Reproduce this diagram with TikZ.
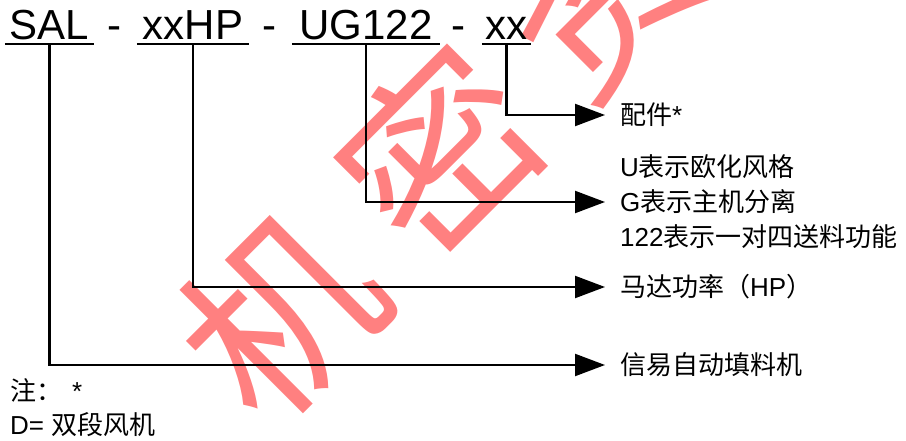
\documentclass[tikz,border=0pt]{standalone}
\usepackage{fontspec}
\setmainfont{Liberation Sans}
\newfontfamily\cjk{Noto Sans CJK SC}
\usetikzlibrary{arrows.meta}
\definecolor{wm}{RGB}{255,128,128}
\begin{document}
\begin{tikzpicture}[x=1pt,y=-1pt,
  conn/.style={line width=2.2pt,-{Triangle[length=30pt,width=22pt]}},
  uline/.style={line width=2.6pt},
  title/.style={font=\fontsize{42}{42}\selectfont, inner sep=0pt, anchor=base},
  lbl/.style={font=\fontsize{26}{35}\selectfont, anchor=west, inner xsep=15pt, inner ysep=0pt, align=left},
  note/.style={font=\fontsize{26}{35}\selectfont, anchor=west, inner sep=0pt},
  wmark/.style={font=\cjk\fontsize{190}{190}\selectfont, text=wm, rotate=45, inner sep=0pt}]
\useasboundingbox (0,0) rectangle (906,441);
\clip (0,0) rectangle (906,441);
% watermark
\node[wmark] (w1) at (280,314) {机};
\node[wmark] (w2) at (440,150) {密};
\node[wmark] (w3) at (598,-8) {资};
% title
\node[title, minimum width=89pt] (sal) at (49.5,40) {SAL};
\node[title] (d1) at (114,40) {-};
\node[title, minimum width=112pt] (hp) at (193,40) {xxHP};
\node[title] (d2) at (269,40) {-};
\node[title, minimum width=148pt] (ug) at (366,40) {UG122};
\node[title] (d3) at (458,40) {-};
\node[title, minimum width=49pt] (xx) at (506.5,40) {xx};
\foreach \n in {sal,hp,ug,xx}{
  \draw[uline] ([yshift=-4pt]\n.base west) -- ([yshift=-4pt]\n.base east);
  \coordinate (\n u) at ([yshift=-4pt]\n.base);
}
% labels
\node[lbl] (lxx) at (605,115) {{\cjk 配件}*};
\node[lbl] (lug) at (605,202) {U{\cjk 表示欧化风格}\\G{\cjk 表示主机分离}\\122{\cjk 表示一对四送料功能}};
\node[lbl] (lhp) at (605,287) {{\cjk 马达功率（}HP{\cjk ）}};
\node[lbl] (lsal) at (605,365) {{\cjk 信易自动填料机}};
% connectors
\draw[conn] (xxu) |- (lxx.west);
\draw[conn] (ugu) |- (lug.west);
\draw[conn] (hpu) |- (lhp.west);
\draw[conn] (salu) |- (lsal.west);
% notes
\node[note] (n1) at (10,390) {{\cjk 注：}\hspace{10pt}*};
\node[note] (n2) at (10,425) {D= {\cjk 双段风机}};
\end{tikzpicture}
\end{document}
